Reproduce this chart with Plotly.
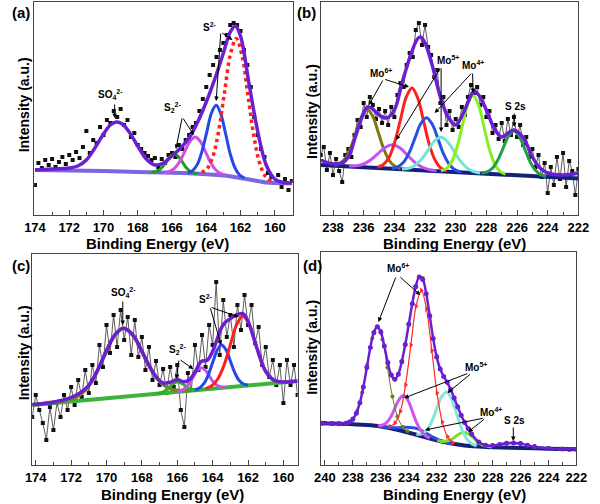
import plotly.graph_objects as go
from plotly.subplots import make_subplots

# ---------------- panel (a): S 2p, sample 1 ----------------
be_a = [174.0, 173.8, 173.6, 173.4, 173.2, 173.0, 172.8, 172.6, 172.4, 172.2,
        172.0, 171.8, 171.6, 171.4, 171.2, 171.0, 170.8, 170.6, 170.4, 170.2,
        170.0, 169.8, 169.6, 169.4, 169.2, 169.0, 168.8, 168.6, 168.4, 168.2,
        168.0, 167.8, 167.6, 167.4, 167.2, 167.0, 166.8, 166.6, 166.4, 166.2,
        166.0, 165.8, 165.6, 165.4, 165.2, 165.0, 164.8, 164.6, 164.4, 164.2,
        164.0, 163.8, 163.6, 163.4, 163.2, 163.0, 162.8, 162.6, 162.4, 162.2,
        162.0, 161.8, 161.6, 161.4, 161.2, 161.0, 160.8, 160.6, 160.4, 160.2,
        160.0, 159.8, 159.6, 159.4, 159.2, 159.0]
raw_a = [30, 52, 47, 55, 50, 56, 48, 53, 58, 51,
         60, 55, 63, 57, 68, 84, 62, 75, 72, 88,
         80, 95, 92, 104, 98, 106, 90, 95, 78, 82,
         70, 66, 62, 59, 55, 57, 48, 56, 52, 60,
         62, 58, 70, 66, 75, 80, 88, 92, 104, 116,
         128, 140, 150, 158, 165, 172, 180, 190, 192, 190,
         184, 165, 150, 128, 98, 80, 66, 58, 42, 38,
         32, 40, 28, 36, 25, 34]
env_a_x = [174.0, 173.0, 172.0, 171.5, 171.0, 170.5, 170.0, 169.6, 169.25, 168.9,
           168.5, 168.0, 167.5, 167.0, 166.5, 166.0, 165.5, 165.0, 164.5, 164.0,
           163.5, 163.0, 162.6, 162.3, 162.0, 161.5, 161.0, 160.5, 160.0, 159.5, 159.0]
env_a_y = [45, 46, 47, 49, 55, 67, 81, 90, 93, 91,
           83, 69, 56, 50, 52, 59, 67, 77, 93, 113,
           136, 162, 183, 189, 179, 131, 84, 50, 36, 32.5, 32]
bg_a_x = [174, 172, 170, 168, 166, 165, 164, 163, 162, 161.5, 161, 160.5, 160, 159]
bg_a_y = [45, 44.5, 44, 43, 42.3, 41.7, 40.8, 39.5, 37, 35.5, 34, 32.5, 32, 31.7]
s22_green_a_x = [164.51, 164.74, 164.96, 165.19, 165.41, 165.64, 165.86, 166.09, 166.31, 166.54, 166.76, 166.99, 167.21]
s22_green_a_y = [41.4, 42.2, 44.1, 47.8, 53.3, 58.7, 61.1, 58.9, 53.7, 48.5, 45.0, 43.3, 42.8]
s22_mag_a_x = [162.84, 163.14, 163.44, 163.74, 164.04, 164.34, 164.64, 164.94, 165.24, 165.54, 165.84, 166.14, 166.44]
s22_mag_a_y = [39.7, 41.3, 45.0, 52.3, 63.1, 73.5, 78.1, 73.9, 64.0, 53.7, 46.9, 43.7, 42.6]
s2_blue_a_x = [161.77, 162.05, 162.32, 162.6, 162.87, 163.15, 163.42, 163.7, 163.97, 164.25, 164.52, 164.8, 165.07]
s2_blue_a_y = [37.0, 39.9, 47.0, 61.0, 81.3, 101.0, 109.7, 101.8, 82.9, 63.6, 50.6, 44.4, 42.3]
s2_red_a_x = [160.21, 160.55, 160.89, 161.23, 161.57, 161.91, 162.25, 162.59, 162.93, 163.27, 163.61, 163.95, 164.29]
s2_red_a_y = [33.7, 38.7, 52.4, 79.9, 120.2, 159.4, 176.5, 160.8, 123.2, 84.5, 58.7, 46.5, 42.4]

# ---------------- panel (b): Mo 3d, sample 1 ----------------
be_b = [238.8, 238.6, 238.4, 238.2, 238.0, 237.8, 237.6, 237.4, 237.2, 237.0,
        236.8, 236.6, 236.4, 236.2, 236.0, 235.8, 235.6, 235.4, 235.2, 235.0,
        234.8, 234.6, 234.4, 234.2, 234.0, 233.8, 233.6, 233.4, 233.2, 233.0,
        232.8, 232.6, 232.4, 232.2, 232.0, 231.8, 231.6, 231.4, 231.2, 231.0,
        230.8, 230.6, 230.4, 230.2, 230.0, 229.8, 229.6, 229.4, 229.2, 229.0,
        228.8, 228.6, 228.4, 228.2, 228.0, 227.8, 227.6, 227.4, 227.2, 227.0,
        226.8, 226.6, 226.4, 226.2, 226.0, 225.8, 225.6, 225.4, 225.2, 225.0,
        224.8, 224.6, 224.4, 224.2, 224.0, 223.8, 223.6, 223.4, 223.2, 223.0,
        222.8, 222.6, 222.4, 222.2, 222.0]
raw_b = [60, 68, 45, 62, 40, 56, 44, 33, 60, 66,
         58, 80, 95, 88, 112, 98, 118, 110, 96, 106,
         92, 104, 90, 108, 98, 120, 132, 128, 150, 162,
         158, 185, 192, 170, 190, 168, 160, 138, 145, 112,
         118, 90, 104, 85, 96, 88, 108, 100, 118, 130,
         122, 128, 110, 118, 98, 104, 82, 90, 76, 92,
         74, 96, 80, 98, 78, 90, 70, 78, 58, 66,
         48, 60, 38, 52, 22, 48, 30, 58, 36, 62,
         28, 54, 44, 20, 46]
env_b_x = [238.8, 238.3, 237.8, 237.4, 237.0, 236.5, 236.0, 235.75, 235.5, 235.0,
           234.5, 234.0, 233.5, 233.0, 232.5, 232.3, 232.0, 231.5, 231.0, 230.5,
           230.0, 229.5, 229.0, 228.8, 228.5, 228.0, 227.5, 227.0, 226.5, 226.2,
           225.8, 225.5, 225.0, 224.5, 224.0, 223.0, 222.0]
env_b_y = [55, 52, 51, 52, 58, 80, 102, 108, 107, 100,
           97, 105, 132, 157, 176, 178, 172, 148, 118, 98,
           90, 102, 120, 124, 120, 105, 87, 78, 83, 85,
           81, 75, 58, 47, 42, 40, 42]
bg_b_x = [238.8, 222.0]
bg_b_y = [50, 36.5]
mo6_olive_b_x = [233.6, 233.96, 234.32, 234.68, 235.04, 235.4, 235.76, 236.12, 236.48, 236.84, 237.2, 237.56, 237.92]
mo6_olive_b_y = [46.4, 48.7, 54.2, 65.6, 82.2, 98.5, 105.6, 99.1, 83.4, 67.4, 56.5, 51.6, 49.9]
mo5_mag_b_x = [231.25, 231.73, 232.2, 232.68, 233.15, 233.63, 234.1, 234.58, 235.05, 235.53, 236.0, 236.48, 236.95]
mo5_mag_b_y = [44.2, 45.4, 47.9, 52.9, 60.0, 67.0, 70.2, 67.8, 61.6, 55.2, 51.0, 49.3, 48.9]
mo6_red_b_x = [230.6, 230.98, 231.35, 231.73, 232.1, 232.48, 232.85, 233.23, 233.6, 233.98, 234.35, 234.73, 235.1]
mo6_red_b_y = [44.2, 47.2, 55.0, 70.9, 94.3, 117.1, 127.1, 117.7, 95.5, 72.7, 57.4, 50.2, 47.8]
mo4_blue_b_x = [229.65, 230.03, 230.4, 230.78, 231.15, 231.53, 231.9, 232.28, 232.65, 233.03, 233.4, 233.78, 234.15]
mo4_blue_b_y = [43.1, 45.1, 50.3, 60.6, 75.9, 90.7, 97.3, 91.3, 77.1, 62.4, 52.7, 48.1, 46.7]
mo5_cyan_b_x = [228.4, 228.83, 229.25, 229.68, 230.1, 230.53, 230.95, 231.38, 231.8, 232.23, 232.65, 233.08, 233.5]
mo5_cyan_b_y = [42.0, 43.5, 46.9, 53.6, 63.6, 73.3, 77.7, 74.0, 64.9, 55.7, 49.6, 46.8, 46.1]
mo4_lime_b_x = [226.76, 227.11, 227.46, 227.81, 228.16, 228.51, 228.86, 229.21, 229.56, 229.91, 230.26, 230.61, 230.96]
mo4_lime_b_y = [40.8, 43.6, 51.0, 66.2, 88.4, 110.1, 119.6, 110.7, 89.5, 67.9, 53.2, 46.4, 44.2]
s2s_b_x = [224.1, 224.45, 224.8, 225.15, 225.5, 225.85, 226.2, 226.55, 226.9, 227.25, 227.6, 227.95, 228.3]
s2s_b_y = [38.7, 40.4, 44.7, 53.3, 66.0, 78.4, 83.9, 79.0, 67.1, 55.0, 46.9, 43.2, 42.1]

# ---------------- panel (c): S 2p, sample 2 ----------------
be_c = [174.2, 174.0, 173.8, 173.6, 173.4, 173.2, 173.0, 172.8, 172.6, 172.4,
        172.2, 172.0, 171.8, 171.6, 171.4, 171.2, 171.0, 170.8, 170.6, 170.4,
        170.2, 170.0, 169.8, 169.6, 169.4, 169.2, 169.0, 168.8, 168.6, 168.4,
        168.2, 168.0, 167.8, 167.6, 167.4, 167.2, 167.0, 166.8, 166.6, 166.4,
        166.2, 166.0, 165.8, 165.6, 165.4, 165.2, 165.0, 164.8, 164.6, 164.4,
        164.2, 164.0, 163.8, 163.6, 163.4, 163.2, 163.0, 162.8, 162.6, 162.4,
        162.2, 162.0, 161.8, 161.6, 161.4, 161.2, 161.0, 160.8, 160.6, 160.4,
        160.2, 160.0, 159.8, 159.6, 159.4, 159.2]
raw_c = [48, 70, 55, 42, 25, 58, 35, 62, 48, 70,
         55, 78, 60, 85, 68, 95, 72, 100, 82, 120,
         98, 140, 112, 150, 118, 155, 125, 148, 110, 145,
         108, 128, 95, 118, 85, 104, 80, 96, 72, 98,
         78, 100, 55, 38, 92, 75, 120, 95, 130, 98,
         140, 120, 183, 110, 165, 128, 150, 118, 160, 135,
         170, 140, 160, 122, 138, 100, 118, 88, 105, 80,
         100, 62, 105, 80, 100, 70]
env_c_x = [174.2, 173.5, 173.0, 172.5, 172.0, 171.5, 171.0, 170.5, 170.0, 169.5,
           169.05, 168.5, 168.0, 167.6, 167.2, 166.8, 166.4, 166.0, 165.6, 165.3,
           165.0, 164.65, 164.3, 164.0, 163.8, 163.5, 163.3, 163.0, 162.7, 162.3,
           162.0, 161.5, 161.0, 160.5, 160.0, 159.2]
env_c_y = [60.3, 61.5, 62.8, 64.8, 67.5, 72.0, 79.7, 94.9, 114.4, 130.8,
           136.7, 129.9, 113.6, 99.7, 88.3, 82.0, 82.8, 85.3, 83.2, 85.5,
           92.8, 103.4, 104.9, 113.7, 123.1, 137.2, 142.5, 146.4, 149.9, 151.4,
           143.7, 117.0, 93.5, 84.5, 83.0, 84.0]
bg_c_x = [174.2, 159.2]
bg_c_y = [60, 84]
so4_olive_c_x = [174.2, 173.5, 172.35, 171.8, 171.25, 170.7, 170.15, 169.6, 169.05, 168.5,
                 167.95, 167.4, 166.85, 166.3, 165.75, 165.0]
so4_olive_c_y = [60.3, 61.8, 64.5, 66.8, 73.9, 87.9, 108.1, 127.8, 136.7, 129.5,
                 111.6, 93.2, 81.0, 75.6, 74.3, 75.2]
s22_green_c_x = [164.8, 165.0, 165.2, 165.4, 165.6, 165.8, 166.0, 166.2, 166.4, 166.6, 166.8, 167.0, 167.2]
s22_green_c_y = [75.1, 75.1, 75.8, 77.3, 79.8, 82.2, 83.1, 81.6, 78.6, 75.4, 73.2, 71.9, 71.3]
s22_mag_c_x = [163.3, 163.53, 163.75, 163.98, 164.2, 164.43, 164.65, 164.88, 165.1, 165.33, 165.55, 165.78, 166.0]
s22_mag_c_y = [77.6, 78.1, 79.7, 83.5, 89.4, 95.0, 97.3, 94.3, 88.0, 81.3, 76.8, 74.5, 73.3]
s2_blue_c_x = [162.0, 162.25, 162.5, 162.75, 163.0, 163.25, 163.5, 163.75, 164.0, 164.25, 164.5, 164.75, 165.0]
s2_blue_c_y = [80.0, 81.0, 84.5, 92.3, 104.0, 115.4, 120.1, 114.6, 102.4, 89.9, 81.3, 77.0, 75.2]
s2_red_c_x = [160.2, 160.55, 160.9, 161.25, 161.6, 161.95, 162.3, 162.65, 163.0, 163.35, 163.7, 164.05, 164.4]
s2_red_c_y = [83.2, 84.9, 90.8, 103.5, 122.7, 141.3, 149.0, 140.1, 120.4, 100.1, 86.3, 79.3, 76.4]

# ---------------- panel (d): Mo 3d, sample 2 ----------------
be_d = [240.0, 239.5, 239.0, 238.5, 238.0, 237.5, 237.0, 236.5, 236.0, 235.5,
        235.0, 234.5, 234.0, 233.5, 233.0, 232.5, 232.0, 231.5, 231.0, 230.5,
        230.0, 229.5, 229.0, 228.5, 228.0, 227.5, 227.0, 226.5, 226.0, 225.5,
        225.0, 224.5, 224.0, 223.5, 223.0, 222.5, 222.0]
raw_d = [42.5, 41, 42, 41, 46.5, 61.5, 98.5, 131.5, 134, 101.5,
         86.5, 102.5, 141.5, 177.5, 187, 148.5, 109, 88, 76, 57.5,
         43.5, 30.5, 23.5, 19, 20, 20, 22.5, 21.5, 22, 19,
         19, 16.5, 17, 15.5, 16.5, 15, 16]
env_d_x = [240.2, 239.5, 239.0, 238.5, 238.25, 238.0, 237.75, 237.5, 237.25, 237.0,
           236.75, 236.5, 236.25, 236.0, 235.75, 235.5, 235.25, 235.0, 234.75, 234.5,
           234.25, 234.0, 233.75, 233.5, 233.25, 233.0, 232.75, 232.5, 232.25, 232.0,
           231.75, 231.5, 231.25, 231.0, 230.75, 230.5, 230.25, 230.0, 229.75, 229.5,
           229.0, 228.5, 228.0, 227.5, 227.0, 226.5, 226.0, 225.5, 225.0, 224.0,
           223.0, 222.0]
env_d_y = [41.7, 41.4, 41.2, 41.7, 42.9, 45.9, 51.8, 62.3, 77.9, 97.5,
           117.5, 132.6, 138.3, 132.9, 119.0, 102.4, 89.9, 85.7, 90.8, 103.4,
           120.5, 140.7, 161.2, 178.6, 188.1, 185.6, 171.3, 149.3, 126.4, 107.9,
           96.0, 88.6, 82.7, 75.4, 67.0, 58.2, 49.8, 42.6, 36.4, 31.0,
           23.0, 19.8, 19.4, 20.6, 21.8, 22.1, 21.4, 19.8, 18.3, 16.5,
           16.0, 15.7]
bg_d_x = [240.3, 239, 238, 237, 236, 235, 234, 233, 232, 231, 230, 229, 228, 226, 224, 222]
bg_d_y = [41.7, 41.2, 40.7, 40, 38.6, 35.8, 32.3, 28.5, 24.7, 21.7, 19.6, 18.5, 17.8, 17, 16.3, 15.7]
mo6_olive_d_x = [234.09, 234.45, 234.81, 235.17, 235.53, 235.89, 236.25, 236.61, 236.97, 237.33, 237.69, 238.05, 238.41]
mo6_olive_d_y = [33.7, 38.3, 48.6, 68.5, 97.4, 125.6, 138.0, 126.7, 100.1, 72.5, 53.9, 45.1, 42.0]
mo5_mag_d_x = [232.49, 232.8, 233.11, 233.42, 233.73, 234.04, 234.35, 234.66, 234.97, 235.28, 235.59, 235.9, 236.21]
mo5_mag_d_y = [27.0, 29.3, 33.8, 41.8, 53.1, 64.2, 69.5, 66.3, 57.5, 48.3, 42.4, 39.9, 39.3]
mo6_red_d_x = [230.85, 231.23, 231.6, 231.98, 232.35, 232.73, 233.1, 233.48, 233.85, 234.23, 234.6, 234.98, 235.35]
mo6_red_d_y = [22.2, 28.4, 42.9, 72.1, 114.5, 155.9, 174.5, 158.7, 119.9, 80.1, 53.7, 42.1, 38.5]
mo4_blue_d_x = [230.95, 231.38, 231.8, 232.23, 232.65, 233.08, 233.5, 233.93, 234.35, 234.78, 235.2, 235.63, 236.05]
mo4_blue_d_y = [21.1, 22.6, 24.7, 27.6, 31.0, 34.5, 36.8, 37.6, 37.7, 37.3, 37.3, 37.8, 38.5]
mo5_cyan_d_x = [229.14, 229.5, 229.86, 230.22, 230.58, 230.94, 231.3, 231.66, 232.02, 232.38, 232.74, 233.1, 233.46]
mo5_cyan_d_y = [19.2, 21.2, 26.3, 36.5, 51.5, 66.3, 73.1, 68.1, 55.6, 42.6, 34.3, 31.0, 30.8]
mo4_lime_d_x = [228.05, 228.38, 228.7, 229.03, 229.35, 229.68, 230.0, 230.33, 230.65, 230.98, 231.3, 231.63, 231.95]
mo4_lime_d_y = [17.9, 18.6, 19.9, 22.7, 26.8, 30.7, 32.6, 31.5, 28.4, 25.3, 23.9, 23.6, 24.6]

FONT = "Liberation Sans, Arial, sans-serif"
ENV = "#6a1fd1"

fig = make_subplots(rows=2, cols=2)


def curve(x, y, color, width, row, col, dash=None, mode="lines", marker=None):
    fig.add_trace(
        go.Scatter(
            x=x, y=y, mode=mode,
            line=dict(color=color, width=width, shape="spline", dash=dash),
            marker=marker,
            showlegend=False, hoverinfo="skip"
        ),
        row=row, col=col
    )


def raw(x, y, row, col, line=True, size=4):
    fig.add_trace(
        go.Scatter(
            x=x, y=y, mode="lines+markers" if line else "markers",
            line=dict(color="#333333", width=0.8),
            marker=dict(symbol="square", size=size, color="#111111"),
            showlegend=False, hoverinfo="skip"
        ),
        row=row, col=col
    )


# 1. panel (a)
raw(be_a, raw_a, 1, 1, line=False)
curve(bg_a_x, bg_a_y, "#7a68e0", 4, 1, 1)
curve(s22_green_a_x, s22_green_a_y, "#1e9e1e", 3, 1, 1)
curve(s22_mag_a_x, s22_mag_a_y, "#cf4fe0", 3, 1, 1)
curve(s2_blue_a_x, s2_blue_a_y, "#2748e8", 3, 1, 1)
curve(s2_red_a_x, s2_red_a_y, "#ff1f1f", 3.5, 1, 1, dash="dot")
curve(env_a_x, env_a_y, ENV, 3.5, 1, 1)

# 2. panel (b)
raw(be_b, raw_b, 1, 2)
curve(bg_b_x, bg_b_y, "#14207a", 4, 1, 2)
curve(mo6_olive_b_x, mo6_olive_b_y, "#7a7a10", 3, 1, 2)
curve(mo5_mag_b_x, mo5_mag_b_y, "#c650f0", 3, 1, 2)
curve(mo6_red_b_x, mo6_red_b_y, "#ff2020", 3, 1, 2)
curve(mo4_blue_b_x, mo4_blue_b_y, "#2850e0", 3, 1, 2)
curve(mo5_cyan_b_x, mo5_cyan_b_y, "#70e6d6", 3, 1, 2)
curve(mo4_lime_b_x, mo4_lime_b_y, "#86f020", 3, 1, 2)
curve(s2s_b_x, s2s_b_y, "#23a045", 3, 1, 2)
curve(env_b_x, env_b_y, ENV, 3.5, 1, 2)

# 3. panel (c)
raw(be_c, raw_c, 2, 1)
curve(bg_c_x, bg_c_y, "#3cb43c", 4, 2, 1)
curve(so4_olive_c_x, so4_olive_c_y, "#808020", 3.5, 2, 1)
curve(s22_green_c_x, s22_green_c_y, "#2ab02a", 3, 2, 1)
curve(s22_mag_c_x, s22_mag_c_y, "#c650f0", 3, 2, 1)
curve(s2_blue_c_x, s2_blue_c_y, "#2748e8", 3, 2, 1)
curve(s2_red_c_x, s2_red_c_y, "#ff1f1f", 3, 2, 1)
curve(env_c_x, env_c_y, ENV, 3.5, 2, 1)

# 4. panel (d)
raw(be_d, raw_d, 2, 2, line=False, size=3)
curve(bg_d_x, bg_d_y, "#14207a", 4, 2, 2)
curve(mo4_blue_d_x, mo4_blue_d_y, "#2b4de0", 3, 2, 2)
curve(mo4_lime_d_x, mo4_lime_d_y, "#7be020", 3, 2, 2)
curve(mo5_cyan_d_x, mo5_cyan_d_y, "#7fe8d8", 3, 2, 2)
curve(mo5_mag_d_x, mo5_mag_d_y, "#cc55ee", 3, 2, 2)
curve(mo6_olive_d_x, mo6_olive_d_y, "#6b7a1a", 1, 2, 2, mode="lines+markers",
      marker=dict(symbol="circle", size=4, color="#6b7a1a"))
curve(mo6_red_d_x, mo6_red_d_y, "#ff2a2a", 1.2, 2, 2, mode="lines+markers",
      marker=dict(symbol="triangle-right", size=5, color="#ff2a2a"))
curve(env_d_x, env_d_y, ENV, 2.5, 2, 2, mode="lines+markers",
      marker=dict(symbol="circle", size=5, color=ENV))

# axes
panels = {
    (1, 1): dict(xd=[25 / 600, 293 / 600], yd=[1 - 215 / 504, 1 - 2 / 504], xr=[174.05, 158.95], yr=[0, 213]),
    (1, 2): dict(xd=[322 / 600, 589 / 600], yd=[1 - 215 / 504, 1 - 2 / 504], xr=[238.8, 222.0], yr=[0, 213]),
    (2, 1): dict(xd=[23 / 600, 298 / 600], yd=[1 - 465 / 504, 1 - 254 / 504], xr=[174.2, 159.2], yr=[0, 211]),
    (2, 2): dict(xd=[322 / 600, 587 / 600], yd=[1 - 465 / 504, 1 - 252 / 504], xr=[240.3, 222.0], yr=[0, 213]),
}
for (r, c), p in panels.items():
    fig.update_xaxes(
        domain=p["xd"], range=p["xr"], dtick=2, tick0=160,
        ticks="inside", ticklen=5, tickwidth=1, tickcolor="#444444",
        minor=dict(ticks="inside", ticklen=3, dtick=1, tickcolor="#444444"),
        showline=True, mirror=True, linecolor="#444444", linewidth=1.2,
        showgrid=False, zeroline=False,
        tickfont=dict(family=FONT, size=13, color="black", weight="bold"),
        row=r, col=c
    )
    fig.update_yaxes(
        domain=p["yd"], range=p["yr"], showticklabels=False, ticks="",
        showline=True, mirror=True, linecolor="#444444", linewidth=1.2,
        showgrid=False, zeroline=False,
        row=r, col=c
    )

TITLE_FONT = dict(family=FONT, size=15, color="black", weight="bold")
ANN_FONT = dict(family=FONT, size=10, color="black", weight="bold")

# panel letters and axis titles (paper coordinates)
for txt, x, y in [("(a)", 0.0, 0.976), ("(b)", 0.493, 0.976), ("(c)", 0.0, 0.474), ("(d)", 0.502, 0.474)]:
    fig.add_annotation(x=x, y=y, xref="paper", yref="paper", text=txt, showarrow=False,
                       xanchor="left", yanchor="middle", font=TITLE_FONT)
for x, y in [(0.255, 0.516), (0.768, 0.516), (0.28, 0.018), (0.767, 0.018)]:
    fig.add_annotation(x=x, y=y, xref="paper", yref="paper", text="Binding Energy (eV)",
                       showarrow=False, xanchor="center", yanchor="middle", font=TITLE_FONT)
for x, y in [(0.0233, 0.792), (0.5217, 0.778), (0.0233, 0.300), (0.5217, 0.310)]:
    fig.add_annotation(x=x, y=y, xref="paper", yref="paper", text="Intensity (a.u.)", textangle=-90,
                       showarrow=False, xanchor="center", yanchor="middle",
                       font=dict(family=FONT, size=14, color="black", weight="bold"))


def label(text, x, y, n):
    ref = "" if n == 1 else str(n)
    fig.add_annotation(x=x, y=y, xref="x" + ref, yref="y" + ref, text=text,
                       showarrow=False, font=ANN_FONT)


def arrow(tail, head, n):
    ref = "" if n == 1 else str(n)
    fig.add_annotation(x=head[0], y=head[1], ax=tail[0], ay=tail[1],
                       xref="x" + ref, yref="y" + ref, axref="x" + ref, ayref="y" + ref,
                       text="", showarrow=True, arrowhead=2, arrowsize=0.9,
                       arrowwidth=1, arrowcolor="black")


# (a)
label("SO<sub>4</sub><sup>2-</sup>", 169.6, 121, 1)
arrow((169.35, 112), (169.35, 97), 1)
label("S<sub>2</sub><sup>2-</sup>", 165.95, 108, 1)
arrow((165.4, 98), (165.77, 66), 1)
arrow((165.4, 98), (164.73, 80), 1)
label("S<sup>2-</sup>", 163.8, 188, 1)
arrow((163.15, 183), (162.47, 175), 1)
arrow((163.15, 183), (163.42, 114), 1)

# (b)
label("Mo<sup>6+</sup>", 234.9, 142, 2)
arrow((234.7, 136), (235.66, 110), 2)
arrow((234.7, 136), (233.04, 128), 2)
label("Mo<sup>5+</sup>", 230.5, 155, 2)
arrow((230.95, 148), (233.88, 75), 2)
arrow((230.95, 148), (230.95, 83), 2)
label("Mo<sup>4+</sup>", 228.85, 150, 2)
arrow((228.9, 143), (231.37, 102), 2)
arrow((228.9, 143), (228.86, 122), 2)
label("S 2s", 226.1, 109, 2)
arrow((226.18, 103), (226.18, 88), 2)

# (c)
label("SO<sub>4</sub><sup>2-</sup>", 169.05, 173, 3)
arrow((169.08, 165), (169.08, 140), 3)
label("S<sub>2</sub><sup>2-</sup>", 166.0, 116, 3)
arrow((165.9, 106), (166.05, 86), 3)
arrow((165.9, 106), (165.1, 96), 3)
label("S<sup>2-</sup>", 164.4, 166, 3)
arrow((164.15, 158), (162.52, 148), 3)
arrow((164.15, 158), (163.52, 120), 3)

# (d)
label("Mo<sup>6+</sup>", 234.8, 197, 4)
arrow((234.9, 189), (236.17, 143), 4)
arrow((234.7, 189), (233.18, 170), 4)
label("Mo<sup>5+</sup>", 229.2, 98, 4)
arrow((229.7, 92), (234.33, 67), 4)
arrow((229.5, 92), (231.23, 72), 4)
label("Mo<sup>4+</sup>", 228.1, 53, 4)
arrow((228.6, 47), (232.84, 35), 4)
arrow((228.5, 47), (229.74, 33), 4)
label("S 2s", 226.4, 45, 4)
arrow((226.52, 39), (226.52, 24), 4)

fig.update_layout(
    width=600,
    height=504,
    margin=dict(l=0, r=0, t=0, b=0),
    paper_bgcolor="white",
    plot_bgcolor="white",
    font=dict(family=FONT, color="black"),
    showlegend=False
)

# the page's default body margin would shift the figure by 8 px
fig.write_html("out.html", config={"displayModeBar": False},
               post_script="document.body.style.margin='0px';")
